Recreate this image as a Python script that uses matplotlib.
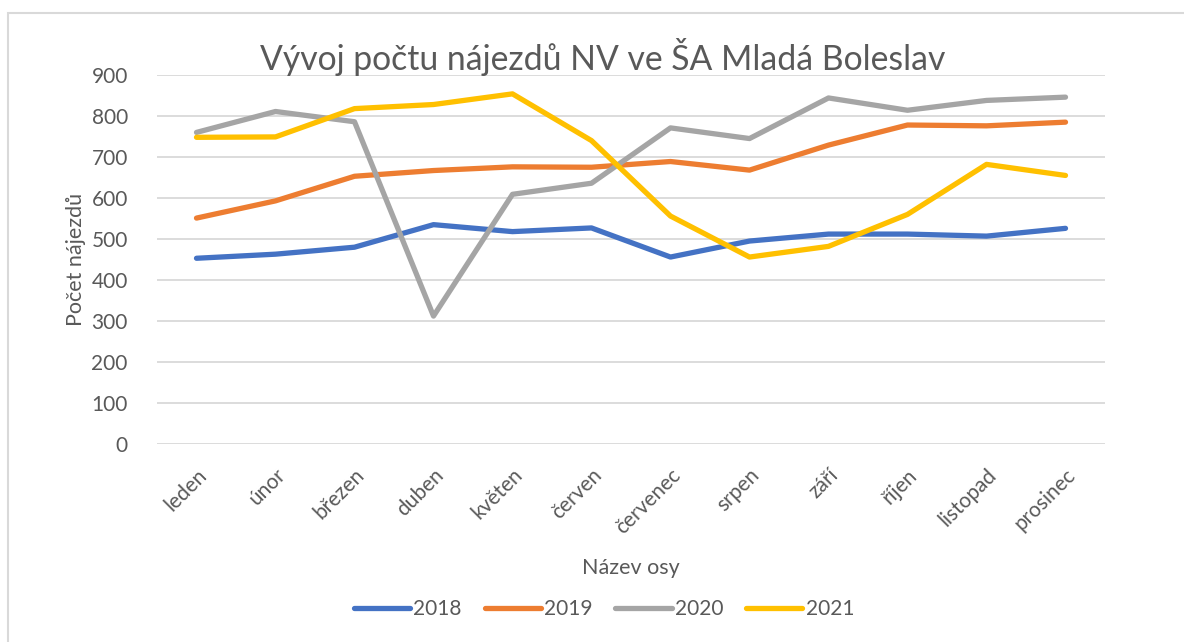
import matplotlib.pyplot as plt
from matplotlib.patches import Rectangle

months = ["leden", "únor", "březen", "duben", "květen", "červen",
          "červenec", "srpen", "září", "říjen", "listopad", "prosinec"]

years = ["2018", "2019", "2020", "2021"]

# počet nájezdů po měsících
values_2018 = [453, 463, 480, 535, 518, 527, 456, 495, 512, 512, 507, 526]
values_2019 = [551, 593, 653, 667, 676, 675, 689, 668, 729, 778, 776, 785]
values_2020 = [760, 811, 786, 312, 609, 636, 771, 745, 844, 814, 838, 846]
values_2021 = [748, 749, 818, 828, 854, 740, 556, 456, 482, 560, 682, 655]

colors = ["#4472C4", "#ED7D31", "#A5A5A5", "#FFC000"]
text_color = "#595959"

plt.rcParams["font.family"] = ["Lato", "DejaVu Sans"]

fig = plt.figure(figsize=(11.84, 6.42), dpi=100)
ax = fig.add_axes([157 / 1184, 1 - 444 / 642, (1105 - 157) / 1184, (444 - 75) / 642])

# light frame of the chart area
fig.patches.append(Rectangle((8 / 1184, -0.1), 1.2, 1 - 13 / 642 + 0.1,
                             transform=fig.transFigure, fill=False,
                             edgecolor="#d9d9d9", linewidth=1.5))

x = list(range(len(months)))
for vals, year, color in zip([values_2018, values_2019, values_2020, values_2021], years, colors):
    ax.plot(x, vals, color=color, linewidth=3.8, label=year,
            solid_capstyle="round", solid_joinstyle="round")

ax.set_xlim(-0.5, len(months) - 0.5)
ax.set_ylim(0, 900)
ax.set_yticks(range(0, 901, 100))
ax.set_xticks(x)
ax.set_xticklabels(months, rotation=45, ha="right", rotation_mode="anchor")
ax.tick_params(axis="both", length=0, labelsize=15, labelcolor=text_color)
ax.tick_params(axis="y", pad=21)
ax.tick_params(axis="x", pad=15)
ax.yaxis.grid(True, color="#d9d9d9", linewidth=1.3)
ax.set_axisbelow(True)
for s in ax.spines.values():
    s.set_visible(False)

ax.set_ylabel("Počet nájezdů", fontsize=15.5, color=text_color, labelpad=4)
fig.text(631 / 1184, 1 - 568 / 642, "Název osy", fontsize=15.5, color=text_color,
         ha="center", va="center")
fig.text(603 / 1184, 1 - 57 / 642, "Vývoj počtu nájezdů NV ve ŠA Mladá Boleslav",
         fontsize=24.3, color=text_color, ha="center", va="center")

leg = fig.legend(loc="center", bbox_to_anchor=(604 / 1184, 1 - 609 / 642), ncol=4,
                 frameon=False, fontsize=15, handlelength=2.7, handletextpad=0.15,
                 columnspacing=1.1, labelcolor=text_color)

fig.savefig("out.png", dpi=100)
